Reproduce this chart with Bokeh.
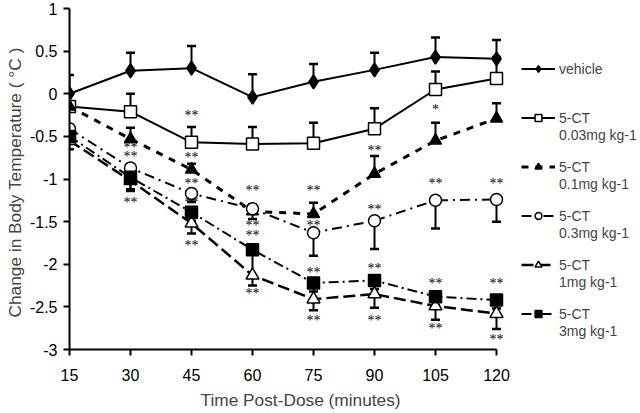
from bokeh.plotting import figure
from bokeh.models import Legend, LegendItem, FixedTicker, Range1d, Title
from bokeh.embed import file_html
from bokeh.resources import INLINE

# ---- data ----
time = [15, 30, 45, 60, 75, 90, 105, 120]

vehicle = [0.0, 0.27, 0.30, -0.04, 0.14, 0.28, 0.43, 0.41]
vehicle_sem = [0.22, 0.21, 0.26, 0.27, 0.21, 0.20, 0.23, 0.22]
ct003 = [-0.15, -0.21, -0.57, -0.59, -0.58, -0.41, 0.05, 0.18]
ct003_sem = [0.05, 0.21, 0.18, 0.20, 0.24, 0.24, 0.21, 0.25]
ct01 = [-0.15, -0.53, -0.89, -1.38, -1.41, -0.94, -0.55, -0.29]
ct01_sem = [0.05, 0.13, 0.07, 0.08, 0.13, 0.21, 0.21, 0.18]
ct03 = [-0.41, -0.87, -1.17, -1.35, -1.63, -1.49, -1.25, -1.24]
ct03_sem = [0.05, 0.08, 0.10, 0.12, 0.27, 0.33, 0.33, 0.26]
ct1 = [-0.55, -1.02, -1.52, -2.13, -2.41, -2.35, -2.49, -2.58]
ct1_sem = [0.10, 0.10, 0.12, 0.12, 0.13, 0.16, 0.16, 0.18]
ct3 = [-0.50, -0.98, -1.39, -1.83, -2.22, -2.19, -2.38, -2.42]
ct3_sem = [0.08, 0.16, 0.10, 0.30, 0.10, 0.10, 0.10, 0.10]

# legend text: first line (next to the glyph) and second line (dose)
labels = ["vehicle", "5-CT", "5-CT", "5-CT", "5-CT", "5-CT"]
doses = ["0.03mg kg-1", "0.1mg kg-1", "0.3mg kg-1", "1mg kg-1", "3mg kg-1"]

# significance marks
sig_x = [30, 30, 30,
         45, 45, 45, 45, 45,
         60, 60, 60, 60,
         75, 75, 75, 75,
         90, 90, 90, 90,
         105, 105, 105, 105,
         120, 120, 120]
sig_y = [-0.63, -0.74, -1.28,
         -0.26, -0.75, -1.05, -1.28, -1.78,
         -1.14, -1.55, -1.66, -2.34,
         -1.14, -1.55, -2.10, -2.66,
         -0.67, -1.36, -2.05, -2.66,
         -0.18, -1.05, -2.23, -2.75,
         -1.05, -2.23, -2.88]
sig_text = ["**", "**", "**",
            "**", "**", "**", "**", "**",
            "**", "**", "**", "**",
            "**", "**", "**", "**",
            "**", "**", "**", "**",
            "*", "**", "**", "**",
            "**", "**", "**"]

y_ticks = [-3, -2.5, -2, -1.5, -1, -0.5, 0, 0.5, 1]
y_tick_labels = ["-3", "-2.5", "-2", "-1.5", "-1", "-0.5", "0", "0.5", "1"]
x_tick_labels = ["15", "30", "45", "60", "75", "90", "105", "120"]

FONT = "Liberation Sans"

W, H = 640, 413
LEFT, TOP, BOTTOM = 69, 8, 64
frame_w = W - LEFT
x_end = 15 + 105 * frame_w / 427.0

p = figure(width=W, height=H, output_backend="svg", toolbar_location=None,
           x_range=Range1d(15, x_end), y_range=Range1d(-3, 1),
           min_border_left=LEFT, min_border_right=0, min_border_top=TOP,
           min_border_bottom=BOTTOM)
p.outline_line_color = None
p.xgrid.visible = False
p.ygrid.visible = False
p.background_fill_color = "white"

for ax in (p.xaxis, p.yaxis):
    ax.axis_line_width = 2
    ax.major_tick_line_width = 2
    ax.major_tick_out = 6
    ax.major_tick_in = 0
    ax.minor_tick_line_color = None
    ax.major_label_text_font = FONT
    ax.major_label_text_font_size = "16px"
    ax.major_label_text_color = "black"
    ax.axis_line_color = "black"
    ax.major_tick_line_color = "black"

p.xaxis.ticker = FixedTicker(ticks=time)
p.xaxis.bounds = (15, 120)
p.xaxis.major_label_overrides = {t: s for t, s in zip(time, x_tick_labels)}
p.xaxis.major_label_standoff = 13
p.yaxis.ticker = FixedTicker(ticks=y_ticks)
p.yaxis.bounds = (-3, 1)
p.yaxis.major_label_overrides = {t: s for t, s in zip(y_ticks, y_tick_labels)}
p.yaxis.major_label_standoff = 6

p.add_layout(Title(text="Time Post-Dose (minutes)", align="left", offset=131,
                   text_font=FONT, text_font_size="17.3px", text_font_style="normal",
                   standoff=8), "below")
p.add_layout(Title(text="Change in Body Temperature ( °C )", align="left", offset=32,
                   text_font=FONT, text_font_size="17.3px", text_font_style="normal",
                   standoff=4), "left")

series = [
    (vehicle, vehicle_sem, 1, dict(line_width=2, line_dash="solid"),
     dict(marker="diamond", size=14, fill_color="black")),
    (ct003, ct003_sem, 1, dict(line_width=2, line_dash="solid"),
     dict(marker="square", size=12, fill_color="white")),
    (ct01, ct01_sem, 1, dict(line_width=3, line_dash="7 7"),
     dict(marker="triangle", size=12, fill_color="black")),
    (ct03, ct03_sem, -1, dict(line_width=2, line_dash="10 5 2 5"),
     dict(marker="circle", size=12, fill_color="white")),
    (ct1, ct1_sem, -1, dict(line_width=2.5, line_dash="12 5"),
     dict(marker="triangle", size=13, fill_color="white")),
    (ct3, ct3_sem, -1, dict(line_width=2, line_dash="10 4 2 4"),
     dict(marker="square", size=12, fill_color="black")),
]

# error bars first
for vals, sem, sign, _, _ in series:
    tips = [v + sign * s for v, s in zip(vals, sem)]
    p.segment(x0=time, y0=vals, x1=time, y1=tips, line_color="black", line_width=2)
    p.scatter(x=time, y=tips, marker="dash", size=9, line_color="black", line_width=2.5)

items = []
for (vals, sem, sign, lkw, mkw), lab in zip(series, labels):
    r_line = p.line(time, vals, line_color="black", **lkw)
    r_mark = p.scatter(time, vals, line_color="black", line_width=1.5, **mkw)
    items.append(LegendItem(label=lab, renderers=[r_line, r_mark]))

p.text(x=sig_x, y=sig_y, text=sig_text, text_align="center", text_baseline="middle",
       text_font_size="14px", text_color="black", text_font="Liberation Sans")

common = dict(padding=0, margin=0, border_line_color=None, background_fill_alpha=0,
              glyph_width=34, glyph_height=17, label_height=17, label_standoff=4,
              label_text_font=FONT, label_text_font_size="14px", spacing=32)

legend = Legend(items=items, location=(452, 27), **common)
p.add_layout(legend)

# second text line of each 5-CT entry
dose_items = [LegendItem(label=d, renderers=[]) for d in doses]
legend2 = Legend(items=dose_items, location=(452, 10), **common)
p.add_layout(legend2)

open("out.html", "w").write(file_html(p, INLINE))
